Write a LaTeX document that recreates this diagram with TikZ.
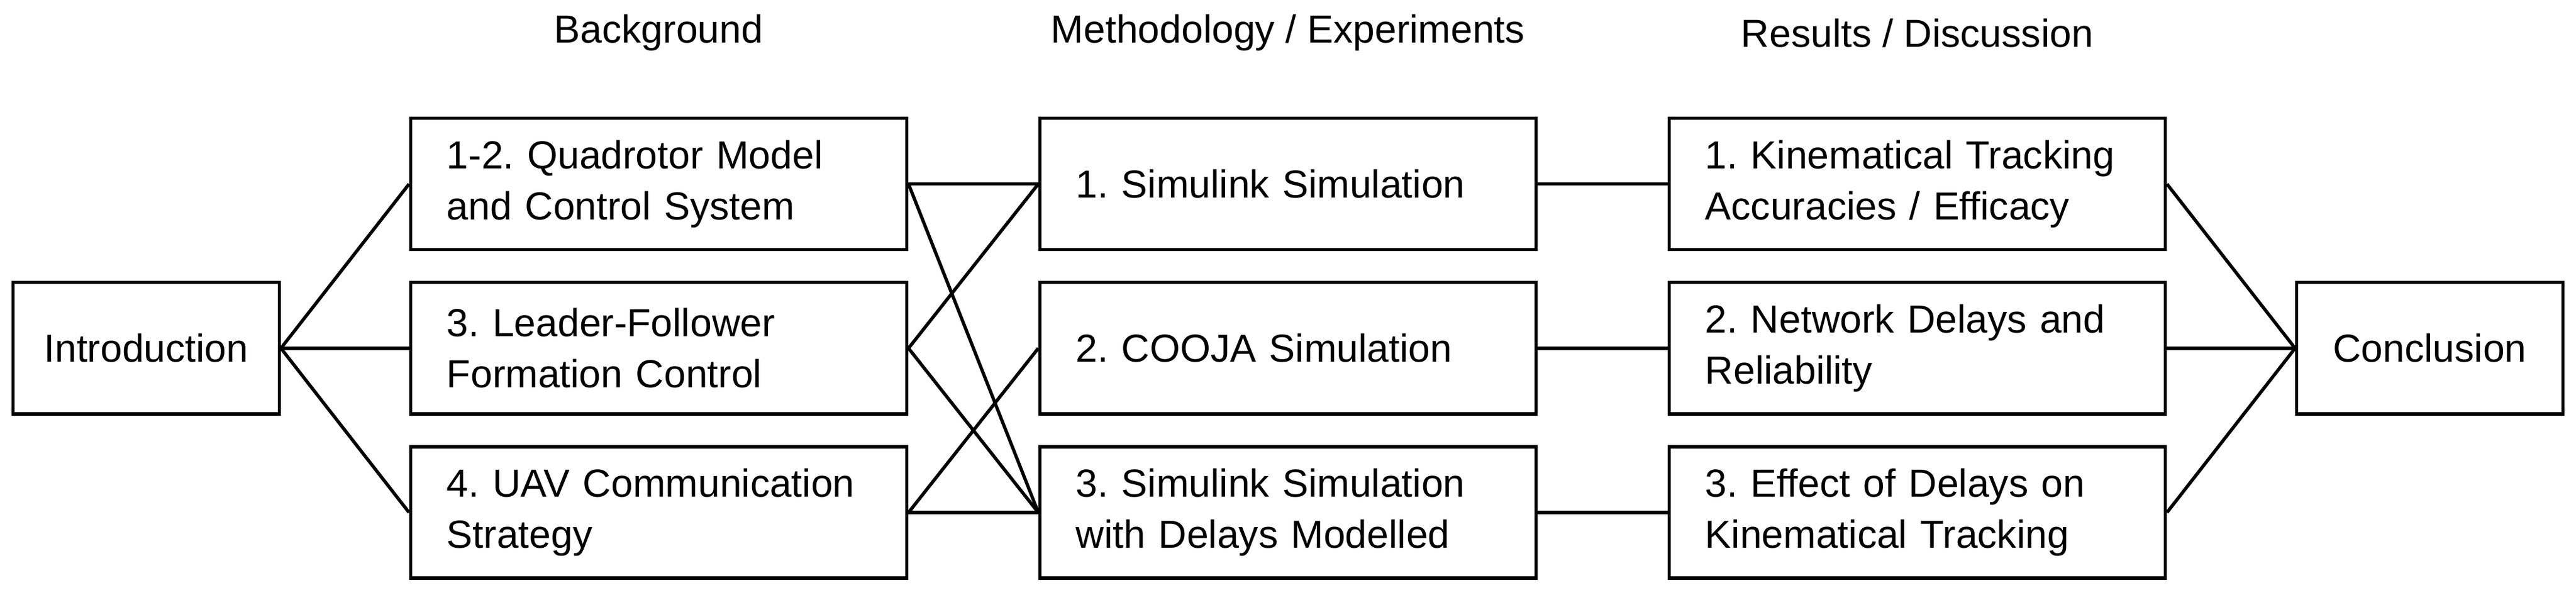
\documentclass[tikz,border=0pt]{standalone}
\usepackage{fontspec}
\setmainfont{Liberation Sans}
\frenchspacing
\usetikzlibrary{positioning}
\begin{document}
\begin{tikzpicture}
	[x=1pt,y=-1pt,
	topic/.style={rectangle,draw=black,line width=2pt,inner xsep=22pt,inner ysep=0pt,text width=258pt,align=left,minimum height=80pt,font=\fontsize{23.8}{31}\selectfont},
	endpoint/.style={rectangle,draw=black,line width=2pt,inner sep=0pt,minimum width=162pt,minimum height=80pt,font=\fontsize{23.8}{31}\selectfont},
	heading/.style={font=\fontsize{23.8}{26}\selectfont},
	link/.style={line width=2pt}]
	\useasboundingbox (0,0) rectangle (1568,365);
	\node (intro) at (89,212) [endpoint] {Introduction};
	\node (concl) at (1479,212) [endpoint] {Conclusion};
	% background
	\node (quad) at (401,112) [topic] {1-2. Quadrotor Model\\and Control System};
	\node (leader) at (401,212) [topic] {3. Leader-Follower\\Formation Control};
	\node (comm) at (401,312) [topic] {4. UAV Communication\\Strategy};
	% methodology
	\node (simu) at (784,112) [topic] {1. Simulink Simulation};
	\node (cooja) at (784,212) [topic] {2. COOJA Simulation};
	\node (delay) at (784,312) [topic] {3. Simulink Simulation\\with Delays Modelled};
	% results
	\node (kin) at (1167,112) [topic] {1. Kinematical Tracking\\Accuracies / Efficacy};
	\node (net) at (1167,212) [topic] {2. Network Delays and\\Reliability};
	\node (eff) at (1167,312) [topic] {3. Effect of Delays on\\Kinematical Tracking};
	\node [heading] at (401,20) {Background};
	\node [heading] at (784,20) {Methodology / Experiments};
	\node [heading] at (1167,20) {Results / Discussion};
	\draw [link] (intro.east) -- (quad.west);
	\draw [link] (intro.east) -- (leader.west);
	\draw [link] (intro.east) -- (comm.west);
	\draw [link] (quad.east) -- (simu.west);
	\draw [link] (quad.east) -- (delay.west);
	\draw [link] (leader.east) -- (simu.west);
	\draw [link] (leader.east) -- (delay.west);
	\draw [link] (comm.east) -- (cooja.west);
	\draw [link] (comm.east) -- (delay.west);
	\draw [link] (simu) -- (kin);
	\draw [link] (cooja) -- (net);
	\draw [link] (delay) -- (eff);
	\draw [link] (kin.east) -- (concl.west);
	\draw [link] (net.east) -- (concl.west);
	\draw [link] (eff.east) -- (concl.west);
\end{tikzpicture}
\end{document}
